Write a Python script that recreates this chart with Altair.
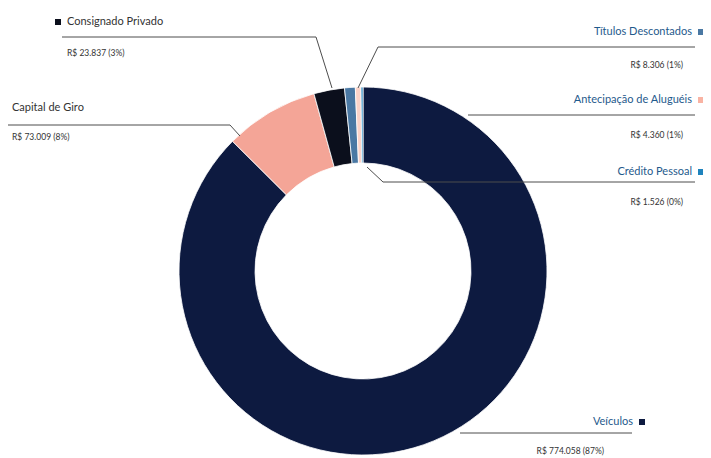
import altair as alt
import pandas as pd

# ---- data ----
categories = ["Veículos", "Capital de Giro", "Consignado Privado",
              "Títulos Descontados", "Antecipação de Aluguéis", "Crédito Pessoal"]
values = [774058, 73009, 23837, 8306, 4360, 1526]
pct_labels = [87, 8, 3, 1, 1, 0]
colors = ["#0d1a40", "#f4a597", "#0b0f1c", "#4a78a3", "#fbd3c8", "#1e83bd"]

def brl(v):
    return "R$ " + f"{v:,}".replace(",", ".")

value_texts = [f"{brl(v)} ({p}%)" for v, p in zip(values, pct_labels)]

df = pd.DataFrame({"cat": categories, "value": values, "idx": list(range(len(values)))})

CX, CY = 355, 263  # donut centre (chart coords)

donut = alt.Chart(df).mark_arc(innerRadius=108, outerRadius=184,
                               stroke="white", strokeWidth=0.8).encode(
    theta=alt.Theta("value:Q", stack=True),
    color=alt.Color("cat:N", scale=alt.Scale(domain=categories, range=colors), legend=None),
    order=alt.Order("idx:Q"),
    x=alt.value(CX), y=alt.value(CY),
)

layers = []

def seg(x1, y1, x2, y2):
    return alt.Chart(df.head(1)).mark_rule(color="#4d4d4d", strokeWidth=1).encode(
        x=alt.value(x1), y=alt.value(y1), x2=alt.value(x2), y2=alt.value(y2))

def txt(s, x, y, align, size, color, weight="normal"):
    return alt.Chart(df.head(1)).mark_text(
        align=align, baseline="middle", font="Lato", fontSize=size,
        color=color, fontWeight=weight).encode(
        x=alt.value(x), y=alt.value(y), text=alt.value(s))

def sq(x, y, color):
    return alt.Chart(df.head(1)).mark_square(size=36, opacity=1, color=color).encode(
        x=alt.value(x), y=alt.value(y))

NAME_L = "#333333"
NAME_R = "#1f5a8c"
VAL = "#333333"

# leader lines
layers += [
    seg(54, 29, 308, 29), seg(308, 29, 324, 80),          # Consignado
    seg(-3, 117, 222, 117), seg(222, 117, 232, 128),      # Capital
    seg(370, 39, 687, 39), seg(370, 39, 350, 80),         # Títulos
    seg(460, 107, 687, 107),                              # Antecipação
    seg(375, 174, 687, 174), seg(375, 174, 359, 159),     # Crédito
    seg(452, 425, 624, 425),                              # Veículos
]

# labels
layers += [
    sq(50, 14, colors[2]), txt(categories[2], 59, 14, "left", 11, NAME_L),
    txt(value_texts[2], 59, 45, "left", 8.5, VAL),
    sq(-4, 100, colors[1]), txt(categories[1], 4, 100, "left", 11, NAME_L),
    txt(value_texts[1], 4, 129, "left", 8.5, VAL),
    txt(categories[3], 684, 24, "right", 11, NAME_R), sq(693, 24, colors[3]),
    txt(value_texts[3], 675, 57, "right", 8.5, VAL),
    txt(categories[4], 684, 92, "right", 11, NAME_R), sq(693, 92, "#f9b3a3"),
    txt(value_texts[4], 675, 127, "right", 8.5, VAL),
    txt(categories[5], 684, 164, "right", 11, NAME_R), sq(693, 164, colors[5]),
    txt(value_texts[5], 675, 194, "right", 8.5, VAL),
    txt(categories[0], 625, 414, "right", 11, NAME_R), sq(634, 414, colors[0]),
    txt(value_texts[0], 596, 443, "right", 8.5, VAL),
]

chart = alt.layer(donut, *layers).properties(
    width=695, height=450, padding=0, autosize=alt.AutoSizeParams(type="none")
).configure_view(stroke=None)

chart.save("out.html", embed_options={"renderer": "svg", "actions": False})
